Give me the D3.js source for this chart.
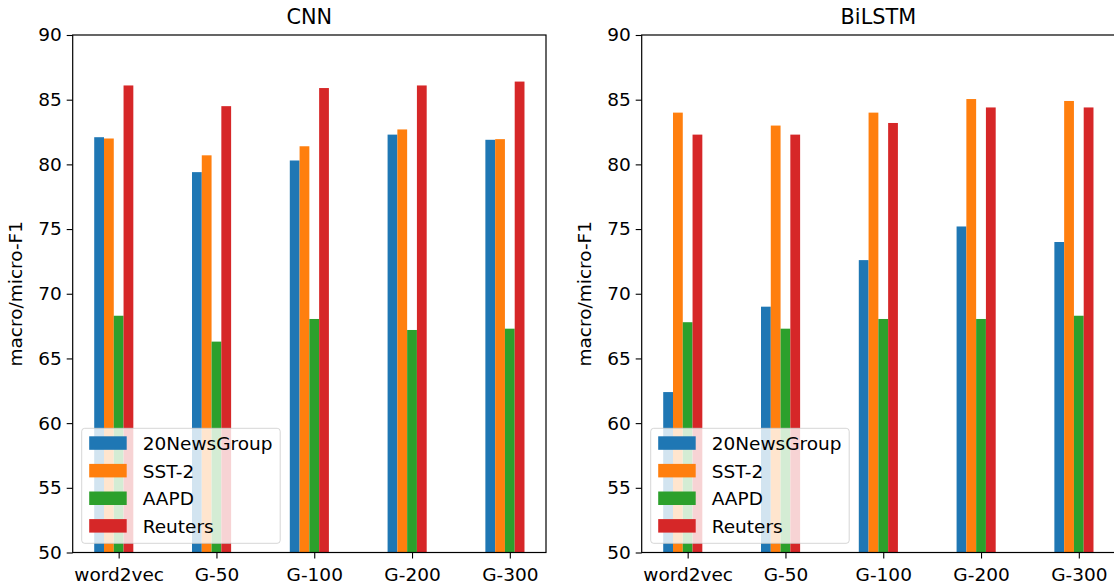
<!DOCTYPE html>
<html><head><meta charset="utf-8">
<script src="https://cdn.jsdelivr.net/npm/d3@7/dist/d3.min.js"></script>
<style>body{margin:0;background:#fff}svg{display:block}text{font-family:"DejaVu Sans",sans-serif;fill:#000}</style>
</head><body>
<script>
const categories = ["word2vec","G-50","G-100","G-200","G-300"];
const seriesNames = ["20NewsGroup","SST-2","AAPD","Reuters"];
const colors = ["#1f77b4","#ff7f0e","#2ca02c","#d62728"];
const cnn20News = [82.1,79.4,80.3,82.3,81.9];
const cnnSST2 = [82.0,80.7,81.4,82.7,81.95];
const cnnAAPD = [68.3,66.3,68.05,67.2,67.3];
const cnnReuters = [86.1,84.5,85.9,86.1,86.4];
const lstm20News = [62.4,69.0,72.6,75.2,74.0];
const lstmSST2 = [84.0,83.0,84.0,85.05,84.9];
const lstmAAPD = [67.8,67.3,68.05,68.05,68.3];
const lstmReuters = [82.3,82.3,83.2,84.4,84.4];
const yTicks = [50,55,60,65,70,75,80,85,90];
const yLabel = "macro/micro-F1";
const panels = [
  {title:"CNN", series:[cnn20News,cnnSST2,cnnAAPD,cnnReuters], left:72.7, right:546},
  {title:"BiLSTM", series:[lstm20News,lstmSST2,lstmAAPD,lstmReuters], left:641.7, right:1115}
];
const W=1114,H=586, plotTop=35, plotBottom=552.5, barW=0.1, offsets=[-0.2,-0.1,0,0.1];
const FS="18.5px";
const svg=d3.select("body").append("svg").attr("width",W).attr("height",H);
panels.forEach(p=>{
  const x=d3.scaleLinear().domain([-0.47,4.37]).range([p.left,p.right]);
  const y=d3.scaleLinear().domain([50,90]).range([plotBottom,plotTop]);
  const g=svg.append("g");
  const clipId="clip"+p.title;
  g.append("clipPath").attr("id",clipId).append("rect").attr("x",p.left).attr("y",plotTop).attr("width",p.right-p.left).attr("height",plotBottom-plotTop);
  const bars=g.append("g").attr("clip-path",`url(#${clipId})`);
  p.series.forEach((vals,si)=>{
    bars.selectAll(null).data(vals).enter().append("rect")
      .attr("x",(d,i)=>x(i+offsets[si]-barW/2))
      .attr("width",(d,i)=>x(i+offsets[si]+barW/2)-x(i+offsets[si]-barW/2))
      .attr("y",d=>y(d)).attr("height",d=>plotBottom-y(d)+2)
      .attr("fill",colors[si]);
  });
  const yAxis=d3.axisLeft(y).tickValues(yTicks).tickSize(6).tickPadding(5);
  const ya=g.append("g").attr("transform",`translate(${p.left},0)`).call(yAxis);
  const xAxis=d3.axisBottom(x).tickValues(d3.range(categories.length)).tickFormat(i=>categories[i]).tickSize(6).tickPadding(5);
  const xa=g.append("g").attr("transform",`translate(0,${plotBottom})`).call(xAxis);
  [ya,xa].forEach(a=>{a.select(".domain").remove();a.selectAll("line").attr("stroke","#000").attr("stroke-width",1.1);a.selectAll("text").style("font-size",FS).attr("fill","#000");});
  xa.selectAll("text").attr("dy","0.92em");
  g.append("rect").attr("x",p.left).attr("y",plotTop).attr("width",p.right-p.left).attr("height",plotBottom-plotTop)
    .attr("fill","none").attr("stroke","#000").attr("stroke-width",1.2);
  g.append("text").attr("x",(p.left+p.right)/2).attr("y",23.5).attr("text-anchor","middle").style("font-size","20.8px").text(p.title);
  g.append("text").attr("transform",`translate(${p.left-51},${(plotTop+plotBottom)/2}) rotate(-90)`).attr("text-anchor","middle").style("font-size",FS).text(yLabel);
  const lx=p.left+9, ly=428.3, lw=198.5, lh=115;
  const lg=g.append("g");
  lg.append("rect").attr("x",lx).attr("y",ly).attr("width",lw).attr("height",lh).attr("rx",3)
    .attr("fill","#fff").attr("fill-opacity",0.8).attr("stroke","#ccc").attr("stroke-opacity",0.8).attr("stroke-width",1);
  seriesNames.forEach((n,i)=>{
    const cy=ly+15+i*27.6;
    lg.append("rect").attr("x",lx+7.5).attr("y",cy-7).attr("width",37.5).attr("height",13.5).attr("fill",colors[i]);
    lg.append("text").attr("x",lx+61).attr("y",cy).attr("dy","0.36em").style("font-size",FS).text(n);
  });
});
</script>
</body></html>
